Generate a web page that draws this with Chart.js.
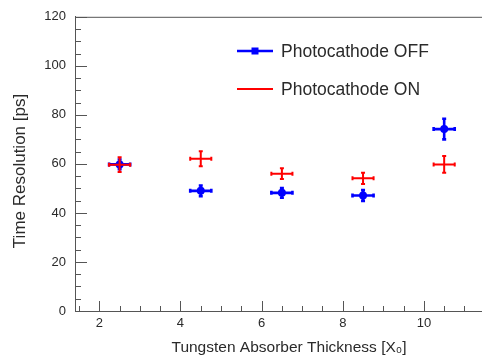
<!DOCTYPE html>
<html>
<head>
<meta charset="utf-8">
<script src="https://cdn.jsdelivr.net/npm/chart.js@4.4.1/dist/chart.umd.min.js"></script>
<style>
  html, body { margin: 0; padding: 0; background: #fff; overflow: hidden; }
  #wrap { width: 482px; height: 360px; overflow: hidden; }
</style>
</head>
<body>
<div id="wrap"><canvas id="timeChart" width="510" height="360"></canvas></div>
<script>
// absorber thickness [X0] and its half-width
const thickness = [2.5, 4.5, 6.5, 8.5, 10.5];
const thicknessErr = [0.26, 0.26, 0.26, 0.26, 0.26];

// time resolution [ps]
const resOff = [59.8, 49.0, 48.2, 47.1, 74.2];
const resOffErr = [2.0, 2.2, 2.0, 2.2, 4.2];
const resOn = [59.7, 62.1, 56.0, 54.1, 59.8];
const resOnErr = [3.0, 3.1, 2.2, 2.3, 3.4];

const yTicks = [0, 20, 40, 60, 80, 100, 120];
const xTicks = [2, 4, 6, 8, 10];

const fontFamily = '"Liberation Sans", Arial, Helvetica, sans-serif';
const textColor = '#2a2a2a';
const frameColor = '#555';

function points(xs, ys) {
    return xs.map((x, i) => ({ x: x, y: ys[i] }));
}

// error bars, drawn just before each dataset's markers
const errorBars = {
    id: 'errorBars',
    beforeDatasetDraw(chart, args) {
        const ds = chart.data.datasets[args.index];
        const xs = chart.scales.x, ys = chart.scales.y;
        const c = chart.ctx;
        const cap = 2;
        c.save();
        c.strokeStyle = ds.borderColor;
        c.lineWidth = ds.errWidth;
        ds.data.forEach((p, i) => {
            const px = xs.getPixelForValue(p.x);
            const py = ys.getPixelForValue(p.y);
            const x0 = xs.getPixelForValue(p.x - ds.xErr[i]);
            const x1 = xs.getPixelForValue(p.x + ds.xErr[i]);
            const y0 = ys.getPixelForValue(p.y - ds.yErr[i]);
            const y1 = ys.getPixelForValue(p.y + ds.yErr[i]);
            c.beginPath();
            c.moveTo(x0, py); c.lineTo(x1, py);
            c.moveTo(px, y0); c.lineTo(px, y1);
            // end caps
            c.moveTo(x0, py - cap); c.lineTo(x0, py + cap);
            c.moveTo(x1, py - cap); c.lineTo(x1, py + cap);
            c.moveTo(px - cap, y0); c.lineTo(px + cap, y0);
            c.moveTo(px - cap, y1); c.lineTo(px + cap, y1);
            c.stroke();
        });
        c.restore();
    }
};

// ROOT style frame: top line + ticks pointing inwards, and the legend box
const frame = {
    id: 'frame',
    afterDraw(chart) {
        const a = chart.chartArea;
        const xs = chart.scales.x, ys = chart.scales.y;
        const c = chart.ctx;
        c.save();
        c.strokeStyle = frameColor;
        c.lineWidth = 1;
        c.beginPath();
        c.moveTo(a.left, a.top + 0.5); c.lineTo(a.right, a.top + 0.5);
        c.moveTo(a.right - 0.5, a.top); c.lineTo(a.right - 0.5, a.bottom);
        for (let v = 0; v <= 120; v += 5) {
            const py = Math.round(ys.getPixelForValue(v)) + 0.5;
            const len = v % 20 === 0 ? 12 : 6;
            c.moveTo(a.left, py); c.lineTo(a.left + len, py);
        }
        for (let v = 1.5; v <= 12; v += 0.5) {
            const px = Math.round(xs.getPixelForValue(v)) + 0.5;
            if (px < a.left) continue;
            const len = v % 2 === 0 ? 10 : 5;
            c.moveTo(px, a.bottom); c.lineTo(px, a.bottom - len);
        }
        c.stroke();

        // legend
        const entries = [chart.data.datasets[1], chart.data.datasets[0]];
        const lx0 = 237, lx1 = 273, tx = 281;
        const rows = [51, 89];
        c.font = '17.5px ' + fontFamily;
        c.textBaseline = 'middle';
        c.fillStyle = textColor;
        entries.forEach((ds, i) => {
            const y = rows[i];
            c.strokeStyle = ds.borderColor;
            c.lineWidth = ds.errWidth;
            c.beginPath();
            c.moveTo(lx0, y); c.lineTo(lx1, y);
            c.stroke();
            if (ds.pointRadius > 0) {
                c.fillStyle = ds.backgroundColor;
                c.fillRect((lx0 + lx1) / 2 - 3.5, y - 3.5, 7, 7);
            }
            c.fillStyle = textColor;
            c.fillText(ds.label, tx, y + 1);
        });
        c.restore();
    }
};

new Chart(document.getElementById('timeChart'), {
    type: 'scatter',
    data: {
        datasets: [
            {
                label: 'Photocathode ON',
                data: points(thickness, resOn),
                xErr: thicknessErr,
                yErr: resOnErr,
                borderColor: '#ff0000',
                backgroundColor: '#ff0000',
                errWidth: 2,
                pointRadius: 0,
                order: 0
            },
            {
                label: 'Photocathode OFF',
                data: points(thickness, resOff),
                xErr: thicknessErr,
                yErr: resOffErr,
                borderColor: '#0000ff',
                backgroundColor: '#0000ff',
                errWidth: 2.6,
                pointRadius: 4,
                pointBorderWidth: 0,
                order: 1
            }
        ]
    },
    options: {
        responsive: false,
        animation: false,
        events: [],
        layout: { padding: { left: 0, top: 14, right: 7, bottom: 0 } },
        plugins: {
            legend: { display: false },
            tooltip: { enabled: false }
        },
        scales: {
            x: {
                type: 'linear',
                min: 1.4,
                max: 11.95,
                afterFit: function(scale) { scale.height = 49; },
                afterBuildTicks: function(scale) {
                    scale.ticks = xTicks.map(v => ({ value: v }));
                },
                grid: { drawOnChartArea: false, drawTicks: false },
                border: { color: frameColor, width: 1 },
                ticks: {
                    autoSkip: false,
                    maxRotation: 0,
                    padding: 5,
                    color: textColor,
                    font: { family: fontFamily, size: 13 }
                },
                title: {
                    display: true,
                    text: 'Tungsten Absorber Thickness [X\u2080]',
                    color: textColor,
                    font: { family: fontFamily, size: 15.5 },
                    padding: { top: 0, bottom: 3 }
                }
            },
            y: {
                type: 'linear',
                min: 0,
                max: 120,
                afterFit: function(scale) { scale.width = 75; },
                afterBuildTicks: function(scale) {
                    scale.ticks = yTicks.map(v => ({ value: v }));
                },
                grid: { drawOnChartArea: false, drawTicks: false },
                border: { color: frameColor, width: 1 },
                ticks: {
                    autoSkip: false,
                    padding: 9,
                    color: textColor,
                    font: { family: fontFamily, size: 13 }
                },
                title: {
                    display: true,
                    text: 'Time Resolution [ps]   ',
                    color: textColor,
                    font: { family: fontFamily, size: 17 },
                    padding: { top: 10, bottom: 0 }
                }
            }
        }
    },
    plugins: [errorBars, frame]
});
</script>
</body>
</html>
